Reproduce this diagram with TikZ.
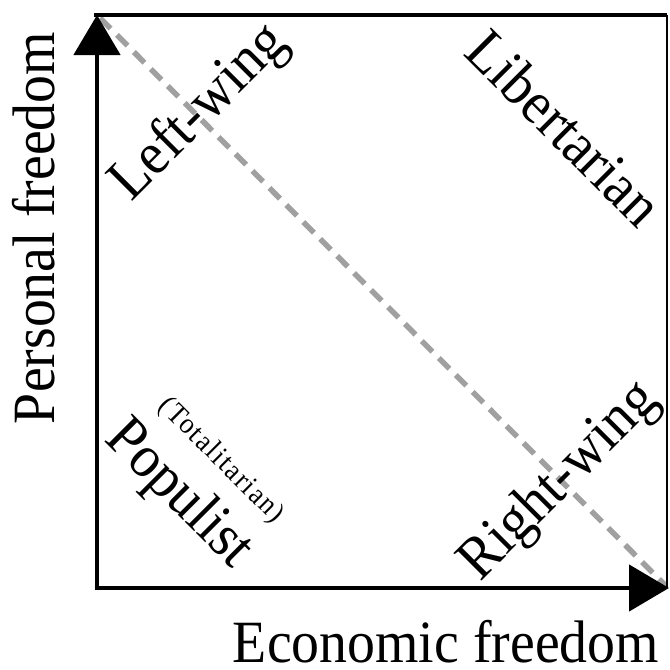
\documentclass[tikz,border=0pt]{standalone}
\usepackage{fontspec}
\setmainfont[FakeStretch=0.93]{Liberation Serif}
\newfontfamily\spacedserif[FakeStretch=0.93,LetterSpace=6]{Liberation Serif}
\usetikzlibrary{arrows.meta}
\begin{document}
\begin{tikzpicture}[x=1pt,y=-1pt,
  axisline/.style={line width=4.8pt,-{Triangle[length=40pt,width=46pt]}},
  topline/.style={line width=4.8pt},
  sideline/.style={line width=1.8pt},
  diagline/.style={line width=5.5pt,draw={rgb,255:red,160;green,160;blue,160},dash pattern=on 15pt off 9pt},
  biglabel/.style={inner sep=0pt,font=\fontsize{60}{72}\selectfont},
  smalllabel/.style={inner sep=0pt,font=\spacedserif\fontsize{29}{34}\selectfont}]
\useasboundingbox (0,0) rectangle (670,670);
\coordinate (O) at (97,588);
\coordinate (TL) at (97,15);
\coordinate (TLL) at (94,15);
\coordinate (TR) at (667,15);
\coordinate (RB) at (667,588);
\coordinate (BR) at (669,588);
\coordinate (DS) at (100,18);
\coordinate (DE) at (666,586);
\draw[diagline] (DS) -- (DE);
\draw[topline] (TLL) -- (TR);
\draw[sideline] (TR) -- (RB);
\draw[axisline] (O) -- (TL);
\draw[axisline] ([xshift=-2.4pt]O) -- (BR);
\node[biglabel,rotate=90] (py) at (34,228) {Personal freedom};
\node[biglabel] (ex) at (446,642) {Economic freedom};
\node[biglabel,rotate=45] (lw) at (200,113) {Left-wing};
\node[biglabel,rotate=-45] (lib) at (565,128) {Libertarian};
\node[biglabel,rotate=45] (rw) at (560,482) {Right-wing};
\node[biglabel,rotate=-45] (pop) at (178,495) {Populist};
\node[smalllabel,rotate=-45] (tot) at (221,461) {(Totalitarian)};
\end{tikzpicture}
\end{document}
